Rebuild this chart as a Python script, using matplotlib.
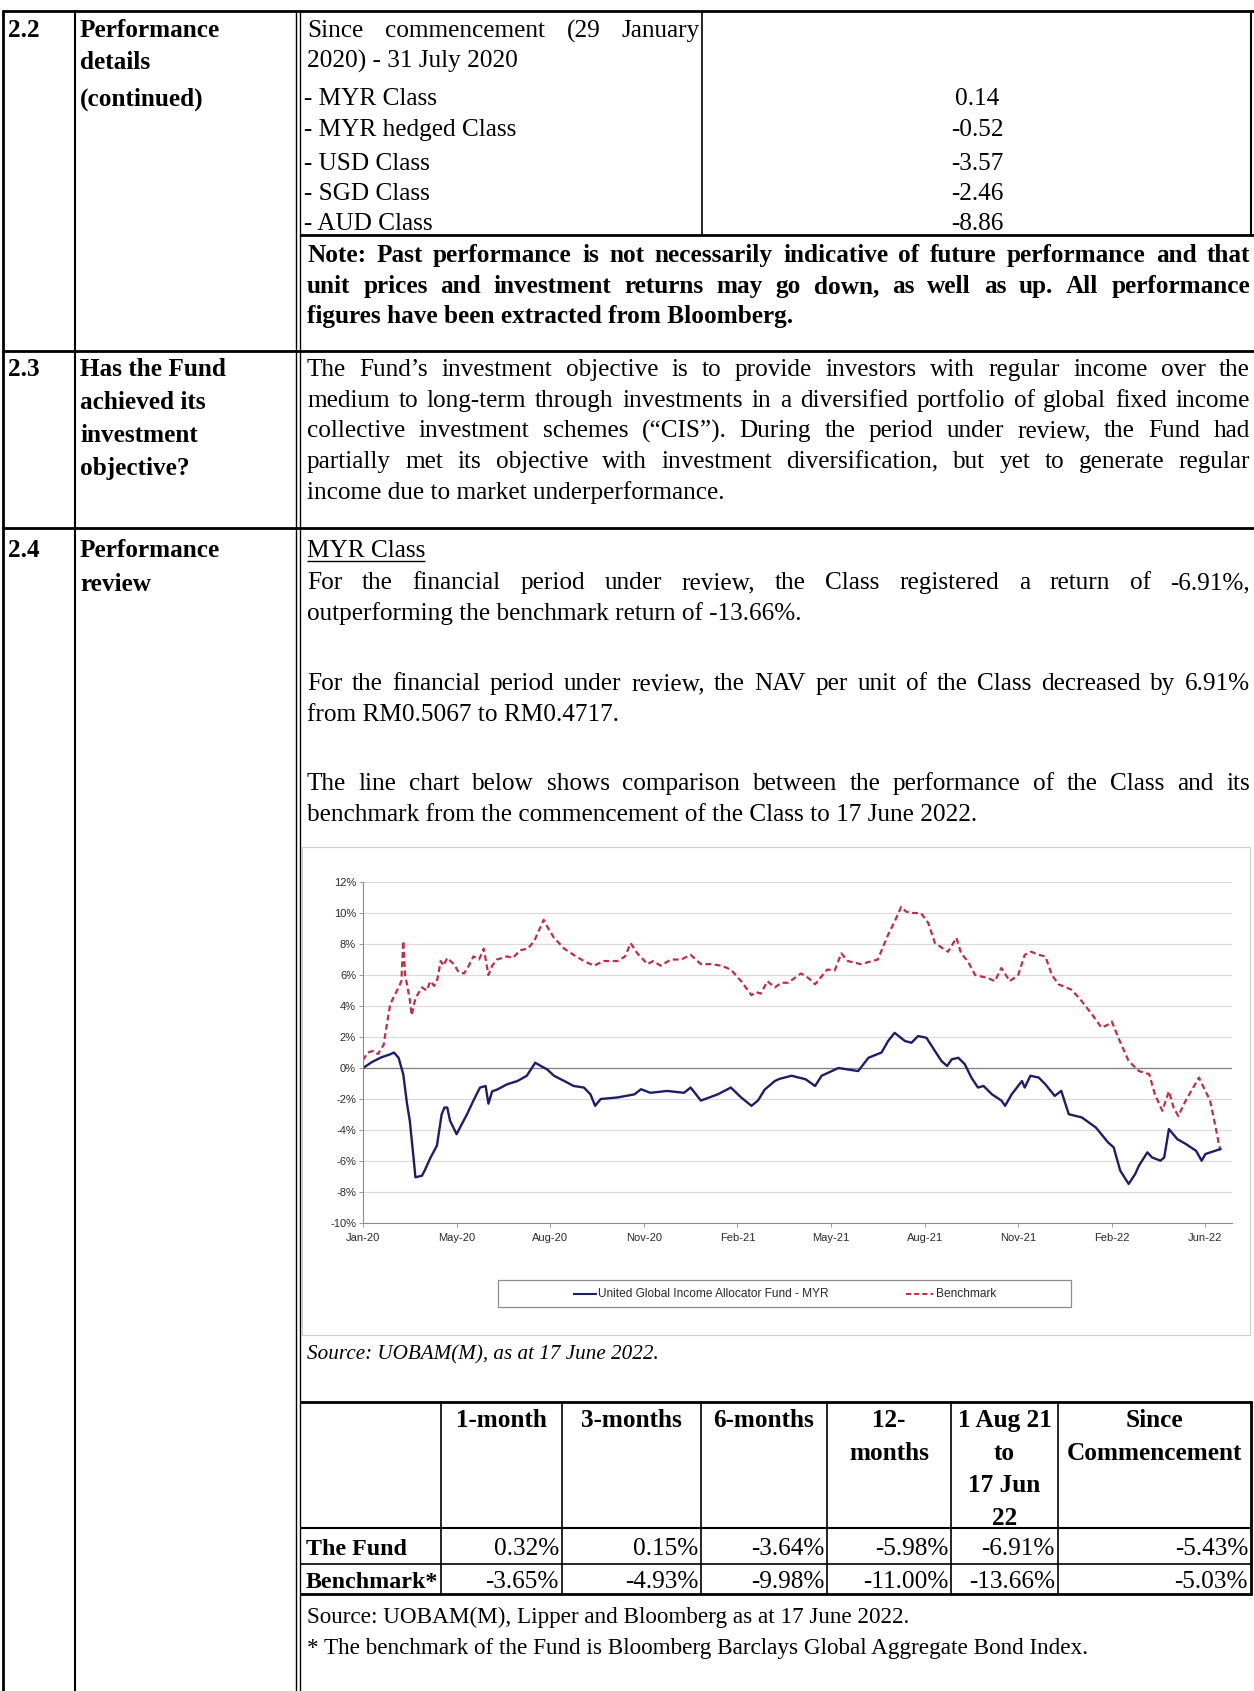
import matplotlib
matplotlib.use('Agg')
import matplotlib.pyplot as plt
from matplotlib.patches import Rectangle

plt.rcParams['font.family'] = ['Liberation Serif', 'DejaVu Serif']

# ---- data -------------------------------------------------------------
class_names = ['- MYR Class', '- MYR hedged Class', '- USD Class', '- SGD Class', '- AUD Class']
class_returns = ['0.14', '-0.52', '-3.57', '-2.46', '-8.86']

period_heads = [['1-month'], ['3-months'], ['6-months'], ['12-', 'months'],
                ['1 Aug 21', 'to', '17 Jun', '22'], ['Since', 'Commencement']]
fund_returns = ['0.32%', '0.15%', '-3.64%', '-5.98%', '-6.91%', '-5.43%']
bench_returns = ['-3.65%', '-4.93%', '-9.98%', '-11.00%', '-13.66%', '-5.03%']

month_labels = ['Jan-20', 'May-20', 'Aug-20', 'Nov-20', 'Feb-21',
                'May-21', 'Aug-21', 'Nov-21', 'Feb-22', 'Jun-22']
y_ticks = [-10, -8, -6, -4, -2, 0, 2, 4, 6, 8, 10, 12]

# position along the x axis in label intervals (Jan-20 = 0, Jun-22 = 9)
fund_x = [0.00, 0.10, 0.20, 0.29, 0.33, 0.38, 0.43, 0.47, 0.50, 0.54, 0.56, 0.63, 0.66,
          0.72, 0.79, 0.84, 0.87, 0.90, 0.93, 1.00, 1.04, 1.11, 1.18, 1.25, 1.31, 1.34,
          1.38, 1.43, 1.54, 1.65, 1.75, 1.84, 1.90, 1.97, 2.04, 2.15, 2.25, 2.36, 2.43,
          2.48, 2.54, 2.72, 2.90, 2.97, 3.07, 3.25, 3.43, 3.50, 3.61, 3.79, 3.93, 4.04,
          4.15, 4.22, 4.29, 4.40, 4.45, 4.58, 4.73, 4.83, 4.90, 5.08, 5.29, 5.40, 5.54,
          5.61, 5.68, 5.79, 5.86, 5.93, 6.02, 6.11, 6.18, 6.24, 6.29, 6.36, 6.43, 6.50,
          6.57, 6.63, 6.72, 6.82, 6.86, 6.93, 7.04, 7.07, 7.13, 7.22, 7.29, 7.39, 7.46,
          7.54, 7.68, 7.83, 7.96, 8.02, 8.09, 8.18, 8.25, 8.29, 8.38, 8.43, 8.52, 8.56,
          8.61, 8.70, 8.79, 8.90, 8.96, 9.00, 9.16]
fund_ret = [0.0, 0.4, 0.7, 0.88, 1.0, 0.66, -0.4, -2.3, -3.4, -5.8, -7.05, -6.95, -6.6,
            -5.8, -5.0, -3.0, -2.55, -2.55, -3.4, -4.27, -3.8, -3.0, -2.1, -1.26, -1.16, -2.3,
            -1.5, -1.4, -1.05, -0.84, -0.5, 0.34, 0.13, -0.1, -0.5, -0.84, -1.16, -1.26, -1.7,
            -2.44, -2.0, -1.9, -1.7, -1.37, -1.6, -1.48, -1.6, -1.26, -2.1, -1.7, -1.26, -1.9,
            -2.44, -2.1, -1.4, -0.84, -0.7, -0.5, -0.73, -1.16, -0.5, 0.0, -0.2, 0.66, 1.0,
            1.74, 2.27, 1.74, 1.63, 2.06, 1.95, 1.1, 0.45, 0.13, 0.56, 0.66, 0.24, -0.62,
            -1.26, -1.16, -1.7, -2.1, -2.44, -1.7, -0.84, -1.26, -0.5, -0.62, -1.05, -1.8, -1.48,
            -2.98, -3.19, -3.84, -4.8, -5.12, -6.62, -7.48, -6.84, -6.3, -5.44, -5.77, -5.98, -5.77,
            -3.94, -4.59, -4.9, -5.34, -5.98, -5.55, -5.23]

bench_x = [0.00, 0.05, 0.11, 0.16, 0.22, 0.29, 0.33, 0.38, 0.41, 0.43, 0.45, 0.47, 0.50,
           0.52, 0.56, 0.60, 0.63, 0.68, 0.72, 0.76, 0.79, 0.83, 0.86, 0.90, 0.97, 1.02,
           1.08, 1.13, 1.18, 1.24, 1.29, 1.34, 1.38, 1.43, 1.54, 1.60, 1.68, 1.76, 1.83,
           1.93, 1.98, 2.04, 2.15, 2.25, 2.36, 2.47, 2.57, 2.72, 2.80, 2.86, 2.93, 3.04,
           3.10, 3.18, 3.29, 3.40, 3.50, 3.61, 3.72, 3.83, 3.93, 4.04, 4.15, 4.20, 4.25,
           4.32, 4.40, 4.47, 4.54, 4.68, 4.76, 4.83, 4.96, 5.04, 5.11, 5.18, 5.32, 5.50,
           5.61, 5.68, 5.75, 5.80, 5.86, 5.96, 6.04, 6.11, 6.20, 6.25, 6.34, 6.39, 6.46,
           6.54, 6.68, 6.75, 6.82, 6.91, 7.00, 7.07, 7.14, 7.22, 7.29, 7.36, 7.43, 7.57,
           7.68, 7.79, 7.89, 7.96, 8.00, 8.07, 8.18, 8.29, 8.40, 8.46, 8.54, 8.61, 8.66,
           8.71, 8.79, 8.93, 9.05, 9.11, 9.14, 9.16]
bench_ret = [0.5, 1.0, 1.1, 0.9, 1.5, 4.1, 4.6, 5.2, 5.6, 8.2, 6.0, 5.4, 4.4,
             3.4, 4.5, 4.9, 5.2, 5.0, 5.6, 5.3, 5.6, 6.9, 6.6, 7.1, 6.7, 6.2,
             6.1, 6.6, 7.2, 7.0, 7.7, 6.0, 6.6, 7.0, 7.2, 7.1, 7.6, 7.7, 8.2,
             9.56, 9.0, 8.4, 7.7, 7.3, 6.9, 6.6, 6.9, 6.9, 7.2, 8.05, 7.4, 6.7,
             6.9, 6.6, 7.0, 7.0, 7.3, 6.7, 6.7, 6.6, 6.35, 5.6, 4.7, 4.9, 4.8,
             5.6, 5.2, 5.5, 5.5, 6.1, 5.8, 5.4, 6.35, 6.3, 7.4, 6.9, 6.7, 7.0,
             8.6, 9.45, 10.4, 10.1, 10.0, 10.0, 9.35, 8.06, 7.7, 7.5, 8.4, 7.4, 6.9,
             6.0, 5.8, 5.6, 6.45, 5.6, 6.0, 7.3, 7.5, 7.3, 7.2, 6.0, 5.4, 5.05,
             4.3, 3.45, 2.6, 2.8, 3.0, 1.95, 0.45, -0.2, -0.4, -1.7, -2.76, -1.5, -2.55,
             -3.1, -2.1, -0.62, -2.1, -3.84, -4.8, -5.3]

# ---- page -------------------------------------------------------------
W, H = 1254, 1691
BODY = 18.2
fig = plt.figure(figsize=(W / 100, H / 100), dpi=100)
bg = fig.add_axes([0, 0, 1, 1])
bg.set_xlim(0, W)
bg.set_ylim(H, 0)
bg.set_autoscale_on(False)
bg.axis('off')
rend = fig.canvas.get_renderer()


def put(x, y, s, size=BODY, bold=False, italic=False, ha='left', **kw):
    # y is the visual middle of the line
    return bg.text(x, y + 0.33 * size / 0.72, s, fontsize=size, ha=ha, va='baseline',
                   fontweight='bold' if bold else 'normal',
                   fontstyle='italic' if italic else 'normal', **kw)


def justify(x0, x1, y, line, **kw):
    words = line.split()
    items = [put(x0, y, w, **kw) for w in words]
    widths = [t.get_window_extent(rend).width for t in items]
    gap = (x1 - x0 - sum(widths)) / (len(words) - 1)
    x = x0
    for t, w in zip(items, widths):
        t.set_x(x)
        x += w + gap


def hline(y, x0, x1, lw=1.5):
    bg.plot([x0, x1], [y, y], color='black', lw=lw, solid_capstyle='butt')


def vline(x, y0, y1, lw=1.5):
    bg.plot([x, x], [y0, y1], color='black', lw=lw, solid_capstyle='butt')


TX0, TX1 = 307, 1250

# outer grid
hline(11, 2, W, 2.0)
hline(351, 2, W, 2.0)
hline(528, 2, W, 2.0)
vline(3, 10, H, 2.0)
vline(75, 10, H, 1.5)
vline(296, 10, H, 1.0)
vline(300, 10, H, 1.0)

# 2.2
put(8, 29, '2.2', bold=True)
put(80, 29, 'Performance', bold=True)
put(80, 61, 'details', bold=True)
put(80, 97, '(continued)', bold=True)
justify(TX0, 700, 29, 'Since commencement (29 January')
put(TX0, 59, '2020) - 31 July 2020')
for name, val, y in zip(class_names, class_returns, [97, 128, 162, 192, 222]):
    put(304, y, name)
    put(977, y, val, ha='center')
vline(702, 11, 235, 1.2)
vline(1251, 11, 235, 1.5)
hline(235, 300, W, 2.0)
notes = ['Note: Past performance is not necessarily indicative of future performance and that',
         'unit prices and investment returns may go down, as well as up. All performance',
         'figures have been extracted from Bloomberg.']
justify(TX0, TX1, 254, notes[0], bold=True)
justify(TX0, TX1, 285, notes[1], bold=True)
put(TX0, 315, notes[2], bold=True)

# 2.3
put(8, 368, '2.3', bold=True)
for s, y in zip(['Has the Fund', 'achieved its', 'investment', 'objective?'], [368, 401, 434, 467]):
    put(80, y, s, bold=True)
obj = ['The Fund\u2019s investment objective is to provide investors with regular income over the',
       'medium to long-term through investments in a diversified portfolio of global fixed income',
       'collective investment schemes (\u201cCIS\u201d). During the period under review, the Fund had',
       'partially met its objective with investment diversification, but yet to generate regular',
       'income due to market underperformance.']
for s, y in zip(obj[:4], [368, 399, 429, 460]):
    justify(TX0, TX1, y, s)
put(TX0, 491, obj[4])

# 2.4
put(8, 549, '2.4', bold=True)
put(80, 549, 'Performance', bold=True)
put(80, 583, 'review', bold=True)
t = put(TX0, 549, 'MYR Class')
uw = t.get_window_extent(rend).width
hline(561, TX0, TX0 + uw, 1.0)
justify(TX0, TX1, 581, 'For the financial period under review, the Class registered a return of -6.91%,')
put(TX0, 612, 'outperforming the benchmark return of -13.66%.')
justify(TX0, TX1, 682, 'For the financial period under review, the NAV per unit of the Class decreased by 6.91%')
put(TX0, 713, 'from RM0.5067 to RM0.4717.')
justify(TX0, TX1, 782, 'The line chart below shows comparison between the performance of the Class and its')
put(TX0, 813, 'benchmark from the commencement of the Class to 17 June 2022.')

# ---- chart --------------------------------------------------------------
FUND_C = '#1d1d6a'
BENCH_C = '#c32c44'
SANS = ['Liberation Sans', 'DejaVu Sans']
bg.add_patch(Rectangle((302, 847), 948, 488, fill=False, ec='#cfcfcf', lw=0.8))

X0, X1, YT, YB = 363, 1232, 882, 1223
step = 93.6
ax = fig.add_axes([X0 / W, 1 - YB / H, (X1 - X0) / W, (YB - YT) / H])
ax.set_xlim(0, (X1 - X0) / step)
ax.set_ylim(-10, 12)
ax.set_yticks(y_ticks)
ax.set_yticklabels([f'{v}%' for v in y_ticks], family=SANS, fontsize=8, color='#2a2a2a')
ax.set_xticks(range(len(month_labels)))
ax.set_xticklabels(month_labels, family=SANS, fontsize=8, color='#2a2a2a')
ax.grid(axis='y', color='#dadada', lw=0.8)
ax.set_axisbelow(True)
ax.axhline(0, color='#808080', lw=0.9)
for side in ['top', 'right']:
    ax.spines[side].set_visible(False)
for side in ['left', 'bottom']:
    ax.spines[side].set_color('#8c8c8c')
    ax.spines[side].set_linewidth(0.8)
ax.tick_params(axis='y', length=3, width=0.6, color='#8c8c8c', pad=2)
ax.tick_params(axis='x', length=3, width=0.6, color='#8c8c8c', pad=4)
ax.patch.set_alpha(0)

ax.plot(bench_x, bench_ret, color=BENCH_C, lw=1.6, dashes=(2.6, 1.6))
ax.plot(fund_x, fund_ret, color=FUND_C, lw=1.7)

# legend box
bg.add_patch(Rectangle((498, 1280), 573, 27, fill=False, ec='#8c8c8c', lw=0.9))
bg.plot([574, 596], [1294, 1294], color=FUND_C, lw=1.5)
bg.text(598, 1294, 'United Global Income Allocator Fund - MYR', family=SANS, fontsize=8.6,
        color='#2a2a2a', va='center')
bg.plot([906, 933], [1294, 1294], color=BENCH_C, lw=1.4, dashes=(2.6, 1.6))
bg.text(936, 1294, 'Benchmark', family=SANS, fontsize=8.6, color='#2a2a2a', va='center')

put(TX0, 1353, 'Source: UOBAM(M), as at 17 June 2022.', size=15.2, italic=True)

# ---- return table -------------------------------------------------------
cols = [300, 441, 562, 701, 827, 951, 1058, 1251]
R0, R1, R2, R3 = 1402, 1528, 1564, 1594
hline(R0, 300, 1252, 2.0)
hline(R1, 300, 1252, 1.5)
hline(R2, 300, 1252, 1.2)
hline(R3, 300, 1252, 2.0)
for c in cols[1:-1]:
    vline(c, R0, R3, 1.2)
vline(cols[-1], R0 - 1, R3 + 1, 2.0)
for i, head in enumerate(period_heads):
    cx = (cols[i + 1] + cols[i + 2]) / 2
    for j, s in enumerate(head):
        put(cx, 1419 + 32.5 * j, s, bold=True, ha='center')
put(306, 1547, 'The Fund', bold=True, size=17.3)
put(306, 1580, 'Benchmark*', bold=True, size=17.3)
for i in range(len(fund_returns)):
    put(cols[i + 2] - 3, 1547, fund_returns[i], ha='right')
    put(cols[i + 2] - 3, 1580, bench_returns[i], ha='right')

put(TX0, 1615, 'Source: UOBAM(M), Lipper and Bloomberg as at 17 June 2022.', size=16.7)
put(TX0, 1646, '* The benchmark of the Fund is Bloomberg Barclays Global Aggregate Bond Index.', size=16.7)

fig.savefig('out.png', dpi=100)
